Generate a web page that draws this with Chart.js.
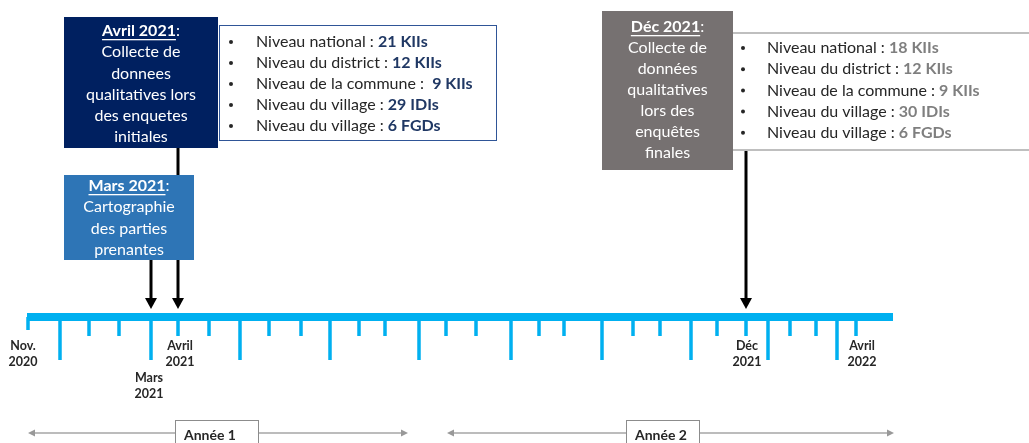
<!DOCTYPE html>
<html><head><meta charset="utf-8">
<script src="https://cdn.jsdelivr.net/npm/chart.js@4.4.1/dist/chart.umd.min.js"></script>
<style>html,body{margin:0;padding:0;background:#fff;overflow:hidden}canvas{display:block}</style>
</head><body>
<canvas id="c" width="1029" height="443"></canvas>
<script>
// ---- data (positions along the schematic timeline) ----
const tickPos  = [28,60,89,119,151,178,209,240,269,301,330,359,385,419,446,476,511,539,564,602,633,660,691,717,746,768,790,816,837,856];
const tickKind = ['cap','long','short','short','long','short','short','long','short','short','long','short','short','long','short','short','long','short','short','long','short','short','long','short','short','long','short','short','long','short'];
const timelineStart = 27, timelineEnd = 893;
const dateLabels   = ['Nov.|2020','Mars|2021','Avril|2021','Déc|2021','Avril|2022'];
const dateLabelPos = [23,149,180,747,862];
const dateLabelRow = [0,1,0,0,0];
const eventNames = ['Mars 2021','Avril 2021','Déc 2021'];
const eventPos   = [151,178,746];
const levels       = ['Niveau national','Niveau du district','Niveau de la commune','Niveau du village','Niveau du village'];
const units        = ['KIIs','KIIs','KIIs','IDIs','FGDs'];
const initialCounts = [21,12,9,29,6];
const finalCounts   = [18,12,9,30,6];
const yearNames = ['Année 1','Année 2'];
const yearStart = [28,447];
const yearEnd   = [408,894];

const FONT = 'Lato, "Open Sans", sans-serif';
const BAR_Y = 317;

const tickData = [];
tickPos.forEach((x,i)=>{
  const end = tickKind[i]==='long'?360:(tickKind[i]==='short'?336:330);
  tickData.push({x:x,y:BAR_Y},{x:x,y:end},{x:x,y:null});
});

function arrow(ctx,x,y1,y2){
  ctx.save();
  ctx.strokeStyle='#000';ctx.fillStyle='#000';ctx.lineWidth=3;
  ctx.beginPath();ctx.moveTo(x,y1);ctx.lineTo(x,y2-10);ctx.stroke();
  ctx.beginPath();ctx.moveTo(x-6,y2-11);ctx.lineTo(x+6,y2-11);ctx.lineTo(x,y2);ctx.closePath();ctx.fill();
  ctx.restore();
}
function hArrow(ctx,x1,x2,y){
  ctx.save();
  ctx.strokeStyle='#A6A6A6';ctx.fillStyle='#999';ctx.lineWidth=1.5;
  ctx.beginPath();ctx.moveTo(x1+6,y);ctx.lineTo(x2-6,y);ctx.stroke();
  ctx.beginPath();ctx.moveTo(x1,y);ctx.lineTo(x1+7,y-3.5);ctx.lineTo(x1+7,y+3.5);ctx.closePath();ctx.fill();
  ctx.beginPath();ctx.moveTo(x2,y);ctx.lineTo(x2-7,y-3.5);ctx.lineTo(x2-7,y+3.5);ctx.closePath();ctx.fill();
  ctx.restore();
}
function titleBox(ctx,box,color,title,lines){
  ctx.save();
  ctx.fillStyle=color;ctx.fillRect(box.x,box.y,box.w,box.h);
  const cx=box.x+box.w/2;
  ctx.fillStyle='#fff';ctx.textBaseline='middle';
  ctx.font='bold 16px '+FONT;
  const t1=title, t2=':';
  const w1=ctx.measureText(t1).width;
  ctx.font='16px '+FONT;
  const w2=ctx.measureText(t2).width;
  const sx=cx-(w1+w2)/2;
  ctx.textAlign='left';
  ctx.font='bold 16px '+FONT;
  ctx.fillText(t1,sx,box.ly0);
  ctx.fillRect(sx,box.ly0+8,w1,1.3);
  ctx.font='16px '+FONT;
  ctx.fillText(t2,sx+w1,box.ly0);
  ctx.textAlign='center';
  lines.forEach((l,i)=>ctx.fillText(l,cx,box.ly0+box.dy*(i+1)));
  ctx.restore();
}
function list(ctx,x0,xt,y0,dy,counts,numColor,seps){
  ctx.save();
  ctx.textBaseline='middle';ctx.textAlign='left';
  levels.forEach((lv,i)=>{
    const y=y0+dy*i;
    ctx.fillStyle='#262626';
    ctx.beginPath();ctx.arc(x0,y,2,0,Math.PI*2);ctx.fill();
    ctx.font='16px '+FONT;
    const s=lv+seps[i];
    ctx.fillText(s,xt,y);
    const w=ctx.measureText(s).width;
    ctx.font='bold 16px '+FONT;ctx.fillStyle=numColor;
    ctx.fillText(counts[i]+' '+units[i],xt+w,y);
  });
  ctx.restore();
}

const overlay = {
  id:'overlay',
  afterDatasetsDraw(chart){
    const ctx=chart.ctx, X=v=>chart.scales.x.getPixelForValue(v), Y=v=>chart.scales.y.getPixelForValue(v);
    // date labels
    ctx.save();
    ctx.fillStyle='#262626';ctx.font='bold 12.5px '+FONT;ctx.textAlign='center';ctx.textBaseline='middle';
    dateLabels.forEach((lab,i)=>{
      const parts=lab.split('|');
      const base=dateLabelRow[i]?378:346;
      parts.forEach((p,j)=>ctx.fillText(p,X(dateLabelPos[i]),Y(base+16*j)));
    });
    ctx.restore();
    // event arrows
    arrow(ctx,X(eventPos[0]),Y(260),Y(309));
    arrow(ctx,X(eventPos[1]),Y(147),Y(309));
    arrow(ctx,X(eventPos[2]),Y(150),Y(309));
    // top-left box
    titleBox(ctx,{x:64,y:17,w:154,h:131,ly0:31,dy:21.2},'#002060',eventNames[1],['Collecte de','donnees','qualitatives lors','des enquetes','initiales']);
    ctx.save();ctx.strokeStyle='#2F5597';ctx.lineWidth=1;ctx.strokeRect(219.5,25.5,277,115);ctx.restore();
    list(ctx,231,256,42,21,initialCounts,'#203864',[' : ',' : ',' :  ',' : ',' : ']);
    // Mars box
    titleBox(ctx,{x:64,y:175,w:130,h:85,ly0:186,dy:21.3},'#2E75B6',eventNames[0],['Cartographie','des parties','prenantes']);
    // Dec box
    titleBox(ctx,{x:602,y:11,w:131,h:159,ly0:27,dy:21},'#767171',eventNames[2],['Collecte de','données','qualitatives','lors des','enquêtes','finales']);
    ctx.save();ctx.fillStyle='#BFBFBF';ctx.fillRect(733,32,296,2);ctx.fillRect(733,149,296,2);ctx.restore();
    list(ctx,743,767,48,21.2,finalCounts,'#7F7F7F',[' : ',' : ',' : ',' : ',' : ']);
    // year arrows
    yearNames.forEach((n,i)=>hArrow(ctx,X(yearStart[i]),X(yearEnd[i]),433));
    ctx.save();
    ctx.font='bold 14px '+FONT;ctx.textBaseline='middle';ctx.textAlign='left';
    [[175,83],[626,73]].forEach((b,i)=>{
      ctx.fillStyle='#fff';ctx.fillRect(b[0],420,b[1],30);
      ctx.strokeStyle='#8C8C8C';ctx.lineWidth=1;ctx.strokeRect(b[0]+0.5,420.5,b[1],30);
      ctx.fillStyle='#262626';ctx.fillText(yearNames[i],b[0]+9,435);
    });
    ctx.restore();
  }
};

new Chart(document.getElementById('c'),{
  type:'scatter',
  data:{datasets:[
    {type:'line',data:[{x:timelineStart,y:BAR_Y},{x:timelineEnd,y:BAR_Y}],borderColor:'#00B0F0',borderWidth:8,pointRadius:0,borderCapStyle:'butt'},
    {type:'line',data:tickData,borderColor:'#00B0F0',borderWidth:3.5,pointRadius:0,spanGaps:false,borderCapStyle:'butt'}
  ]},
  options:{
    responsive:false,animation:false,devicePixelRatio:1,
    layout:{padding:0},
    plugins:{legend:{display:false},tooltip:{enabled:false}},
    scales:{
      x:{type:'linear',min:0,max:1029,display:false},
      y:{type:'linear',min:0,max:443,reverse:true,display:false}
    }
  },
  plugins:[overlay]
});
</script>
</body></html>
